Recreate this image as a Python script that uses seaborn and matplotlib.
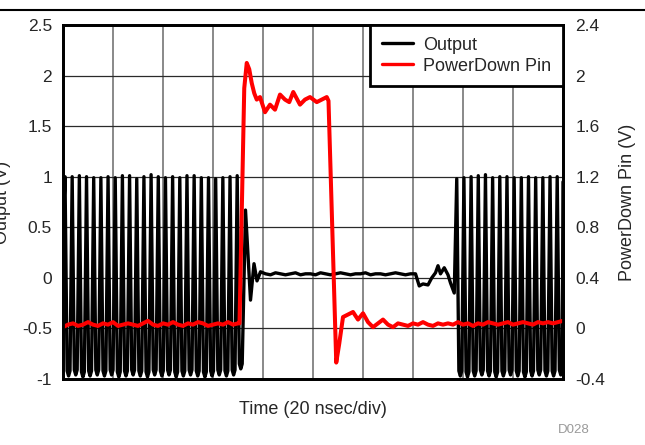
import numpy as np
import pandas as pd
import matplotlib.pyplot as plt
import seaborn as sns
from matplotlib.lines import Line2D

period = 2.87            # period of the output burst
burst1_start = 0.8       # time of first peak in burst 1
burst2_start = 157.5     # time of first peak in burst 2

burst1_hi = [1.00, 1.00, 1.01, 1.00, 0.99, 0.99, 1.00, 0.99, 1.01, 1.01, 0.98, 1.00, 1.02,
             1.00, 0.99, 1.00, 0.99, 1.01, 1.01, 0.99, 0.99, 0.98, 0.99, 1.00, 1.01]
burst1_lo = [-0.97, -0.96, -0.98, -0.97, -0.96, -0.97, -0.96, -0.98, -0.97, -0.96, -0.97, -0.98, -0.96,
             -0.97, -0.96, -0.98, -0.97, -0.96, -0.97, -0.98, -0.97, -0.96, -0.97, -0.96, -0.90]
burst2_hi = [0.98, 0.99, 1.00, 1.01, 1.02, 0.99, 1.00, 1.00, 0.99, 0.99, 1.00, 0.99, 0.99, 1.00, 1.00]
burst2_lo = [-0.97, -0.98, -0.97, -0.96, -0.97, -0.98, -0.97, -0.96, -0.97, -0.98, -0.97, -0.96,
             -0.97, -0.97, -0.96]

# output while powered down
out_ring_t = [73.0, 75.0, 76.4, 77.6, 79.0]
out_ring_v = [0.67, -0.22, 0.14, -0.03, 0.06]
out_flat_t0 = 81          # sampled every 2 ns
out_flat = [0.04, 0.03, 0.05, 0.04, 0.03, 0.04, 0.05, 0.03, 0.04, 0.04, 0.03, 0.05, 0.04, 0.03,
            0.04, 0.05, 0.04, 0.03, 0.04, 0.04, 0.05, 0.03, 0.04, 0.04, 0.03, 0.04, 0.05, 0.04,
            0.03, 0.04, 0.04]
out_wake_t = [142.5, 144, 146, 147.5, 149, 150, 151, 152.5, 154, 155, 156.5]
out_wake_v = [-0.08, -0.06, -0.07, 0.00, 0.05, 0.12, 0.04, 0.10, 0.03, -0.05, -0.15]
out_end = 0.95

# PowerDown pin
pd_low1 = [0.01, 0.03, 0.04, 0.02, 0.03, 0.05, 0.03, 0.02, 0.04, 0.03, 0.05, 0.02, 0.03, 0.04,
           0.03, 0.02, 0.04, 0.06, 0.03, 0.02, 0.04, 0.03, 0.05, 0.03, 0.02, 0.04, 0.03, 0.05,
           0.04, 0.02, 0.03, 0.04, 0.03, 0.05, 0.03, 0.04]          # 0..70 ns, every 2 ns
pd_pulse_t = [70.6, 72.5, 73.5, 74.5, 75.5, 76.5, 77.5, 78.8, 80.8, 82.8, 84.8, 86.8, 88.8,
              90.5, 92.1, 94.8, 96.8, 98.8, 101.5, 103.5, 105.5, 106.2, 109.3, 110.5]
pd_pulse_v = [0.04, 1.90, 2.10, 2.05, 1.94, 1.86, 1.81, 1.83, 1.71, 1.77, 1.73, 1.85, 1.81,
              1.79, 1.87, 1.77, 1.81, 1.83, 1.79, 1.81, 1.83, 1.80, -0.27, -0.12]
pd_low2 = [0.09, 0.11, 0.13, 0.07, 0.12, 0.05, 0.01, 0.04, 0.07, 0.03, 0.01, 0.04, 0.03, 0.02,
           0.04, 0.03, 0.05, 0.03, 0.02, 0.04, 0.03, 0.04, 0.03, 0.05, 0.03, 0.04, 0.02, 0.04,
           0.03, 0.05, 0.04, 0.03, 0.04, 0.05, 0.03, 0.04, 0.05, 0.04, 0.03, 0.05, 0.04, 0.05,
           0.04, 0.05, 0.06]                                          # 112..200 ns, every 2 ns

left_ticks = [-1, -0.5, 0, 0.5, 1, 1.5, 2, 2.5]
right_ticks = [-0.4, 0, 0.4, 0.8, 1.2, 1.6, 2, 2.4]
x_ticks = list(range(0, 201, 20))


def burst(t0, hi, lo):
    # narrow peaks, wide rounded troughs
    t, v = [], []
    for k, (h, l) in enumerate(zip(hi, lo)):
        tp = t0 + k * period
        t += [tp, tp + 0.85, tp + 1.43, tp + 2.0]
        v += [h, l + 0.05, l, l + 0.05]
    return t, v


b1_t, b1_v = burst(burst1_start, burst1_hi, burst1_lo)
b2_t, b2_v = burst(burst2_start, burst2_hi, burst2_lo)
flat_t = [out_flat_t0 + 2 * i for i in range(len(out_flat))]

out_t = [0] + b1_t + out_ring_t + flat_t + out_wake_t + b2_t + [200]
out_v = [0.45] + b1_v + out_ring_v + out_flat + out_wake_v + b2_v + [out_end]
df_out = pd.DataFrame({"time": out_t, "volts": out_v})

pd_t = [2 * i for i in range(len(pd_low1))] + pd_pulse_t + [112 + 2 * i for i in range(len(pd_low2))]
pd_v = pd_low1 + pd_pulse_v + pd_low2
df_pd = pd.DataFrame({"time": pd_t, "volts": pd_v})

sns.set_style("white")
plt.rcParams["font.family"] = ["Liberation Sans", "DejaVu Sans"]

fig = plt.figure(figsize=(6.45, 4.45), dpi=100)
ax = fig.add_axes([63 / 645, 1 - 379 / 445, 500 / 645, 354 / 445])
ax2 = ax.twinx()

sns.lineplot(data=df_out, x="time", y="volts", sort=False, estimator=None, ax=ax,
             color="black", lw=2.4, legend=False)
sns.lineplot(data=df_pd, x="time", y="volts", sort=False, estimator=None, ax=ax2,
             color="#ff0000", lw=2.9, legend=False)

ax.set_xlim(0, 200)
ax.set_ylim(-1, 2.5)
ax2.set_ylim(-0.4, 2.4)
ax.set_xticks(x_ticks)
ax.set_xticklabels([])
ax.set_yticks(left_ticks)
ax.set_yticklabels(["%g" % v for v in left_ticks])
ax2.set_yticks(right_ticks)
ax2.set_yticklabels(["%g" % v for v in right_ticks])
ax.tick_params(length=0, labelsize=12.5, pad=8)
ax2.tick_params(length=0, labelsize=12.5, pad=9)

ax.xaxis.grid(True, color="#808080", lw=1.3)
ax.yaxis.grid(True, color="#2a2a2a", lw=0.9)
ax.set_axisbelow(True)
for a in (ax, ax2):
    for s in a.spines.values():
        s.set_linewidth(2)
        s.set_color("black")

ax.set_xlabel("Time (20 nsec/div)", fontsize=13, labelpad=8)
ax.set_ylabel("")
ax2.set_ylabel("PowerDown Pin (V)", fontsize=13, labelpad=10)
fig.text(3 / 645, 1 - 202 / 445, "Output (V)", rotation=90, ha="center", va="center", fontsize=13)

handles = [Line2D([], [], color="black", lw=2.4), Line2D([], [], color="#ff0000", lw=2.4)]
leg = ax2.legend(handles, ["Output", "PowerDown Pin"], loc="upper right", fontsize=13,
                 frameon=True, fancybox=False, edgecolor="black", framealpha=1,
                 borderaxespad=0, handlelength=1.75, borderpad=0.65, labelspacing=0.22,
                 handletextpad=0.55)
leg.get_frame().set_linewidth(2)

fig.add_artist(Line2D([0, 1], [1 - 9.5 / 445, 1 - 9.5 / 445], color="black", lw=1.5))
fig.text(590 / 645, 1 - 430 / 445, "D028", color="#9a9a9a", fontsize=9.5, ha="right", va="center")

fig.savefig("out.png", dpi=100)
